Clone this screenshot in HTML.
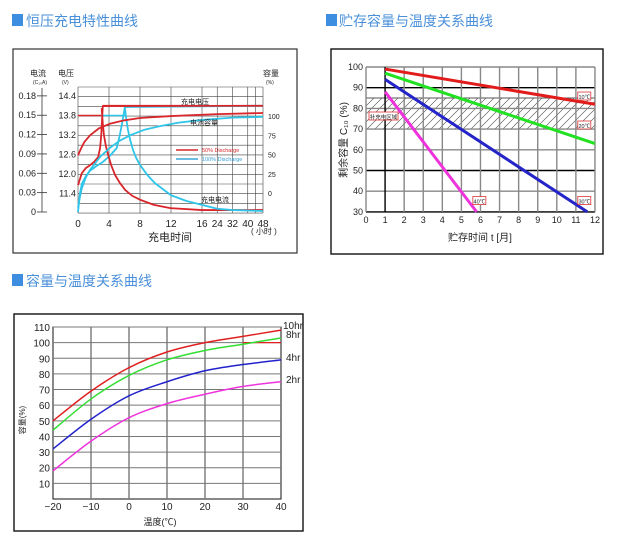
<!DOCTYPE html>
<html><head><meta charset="utf-8">
<style>
html,body{margin:0;padding:0;background:#fff;width:619px;height:546px;overflow:hidden}
svg{position:absolute;left:0;top:0}
text{font-family:"Liberation Sans","Noto Sans CJK SC",sans-serif}
.h{font-size:14px;fill:#4a90d9}
</style></head>
<body>
<svg id="s" width="619" height="546" viewBox="0 0 619 546" xmlns="http://www.w3.org/2000/svg">
<rect x="12" y="14" width="11" height="12" fill="#3d8ee0"/>
<text class="h" x="26" y="26">恒压充电特性曲线</text>
<rect x="326" y="14" width="11" height="12" fill="#3d8ee0"/>
<text class="h" x="339" y="26">贮存容量与温度关系曲线</text>
<rect x="12" y="274" width="11" height="12" fill="#3d8ee0"/>
<text class="h" x="26" y="286">容量与温度关系曲线</text>

<rect x="13" y="49" width="284" height="204" fill="#fff" stroke="#333" stroke-width="1.2"/>
<rect x="331" y="49" width="272" height="205" fill="#fff" stroke="#111" stroke-width="1.4"/>
<rect x="14" y="314" width="289" height="217" fill="#fff" stroke="#111" stroke-width="1.4"/>
<g id="c1"></g>
<g id="c2"></g>
<g id="c3"></g>
</svg>
<script>
// ---- Chart 1 data ----
const c1TimeTicks=[0,4,8,12,16,24,32,40,48];
const c1VoltTicks=[14.4,13.8,13.2,12.6,12.0,11.4];
const c1CurTicks=[0.18,0.15,0.12,0.09,0.06,0.03,0];
const c1CapTicks=[100,75,50,25,0];
const redVoltage=[[0,11.66],[0.5,12.03],[1.0,12.18],[1.55,12.27],[2.1,12.38],[2.6,12.52],[2.85,12.8],[3.0,13.2],[3.1,13.66],[3.2,14.09],[48,14.1]];
const redCurrent=[[3.05,0.161],[3.2,0.137],[3.35,0.119],[3.6,0.102],[3.9,0.088],[4.3,0.072],[4.8,0.057],[5.4,0.045],[6.1,0.034],[7,0.025],[8,0.019],[9.8,0.011],[11.9,0.006],[16,0.003],[48,0.003]];
const redCapacity=[[0,49],[0.4,58],[0.8,66],[1.55,75],[2.7,84],[4.1,90],[6,94.5],[8,97.5],[12,100],[24,102.5],[48,104]];
const cyanVoltage=[[0,10.83],[0.25,11.4],[0.5,11.7],[1.0,11.93],[1.55,12.1],[2.4,12.25],[3.2,12.37],[4.2,12.58],[5,12.8],[5.4,13.2],[5.75,13.65],[6.05,14.06],[48,14.1]];
const cyanCurrent=[[6.05,0.161],[6.25,0.142],[6.45,0.127],[6.75,0.111],[7.1,0.096],[7.5,0.084],[8,0.073],[8.9,0.058],[9.9,0.045],[12,0.026],[14,0.017],[16,0.011],[24,0.005],[32,0.003],[48,0.0015]];
const cyanCapacity=[[0,-19],[0.25,-5],[0.5,6.5],[1.0,20],[1.55,30],[2.85,47],[4.1,58.5],[5.3,67.5],[6.7,75],[8.5,82],[10.6,87],[13,91.5],[16,95],[32,98],[48,99]];
// ---- Chart 2 data ----
const c2Months=[0,1,2,3,4,5,6,7,8,9,10,11,12];
const c2PctTicks=[100,90,80,70,60,50,40,30];
const line10C=[[1,99],[12,82]];
const line20C=[[1,97],[12,63]];
const line30C=[[1,94],[11.6,30]];
const line40C=[[1,88],[5.8,30]];
// ---- Chart 3 data ----
const c3Temps=[-20,-10,0,10,20,30,40];
const c3PctTicks=[110,100,90,80,70,60,50,40,30,20,10];
const cap10hr=[50,69,84,94,100,104,108];
const cap8hr=[44,64,79,89,95,99,103];
const cap4hr=[32,51,66,75,82,86,89];
const cap2hr=[18,37,52,61,67,72,75];

const NS='http://www.w3.org/2000/svg';
function mk(p,tag,a,txt){const e=document.createElementNS(NS,tag);for(const k in a)e.setAttribute(k,a[k]);if(txt!=null)e.textContent=txt;p.appendChild(e);return e;}
function smooth(pts){let d='M'+pts[0][0]+','+pts[0][1];for(let i=1;i<pts.length;i++){const p0=pts[i-2]||pts[i-1],p1=pts[i-1],p2=pts[i],p3=pts[i+1]||p2;const c1x=p1[0]+(p2[0]-p0[0])/6,c1y=p1[1]+(p2[1]-p0[1])/6,c2x=p2[0]-(p3[0]-p1[0])/6,c2y=p2[1]-(p3[1]-p1[1])/6;d+=' C'+c1x+','+c1y+' '+c2x+','+c2y+' '+p2[0]+','+p2[1];}return d;}
function poly(pts){return 'M'+pts.map(p=>p[0].toFixed(2)+','+p[1].toFixed(2)).join(' L');}

// Chart 1
(function(){
const g=document.getElementById('c1');
const tx=t=>t<=16?78+t*7.75:202+(t-16)*15.25/8;
const vy=v=>96+(14.4-v)/0.6*19.5;
const iy=a=>212-a/0.00155;
const cy=c=>193-c/1.3;
for(let k=0;k<=13;k++){const y=87+k*9.7;const l=mk(g,'line',{x1:78,x2:263,y1:y,y2:y,stroke:'#444','stroke-width':0.6});

}
c1TimeTicks.concat([44]).forEach(t=>{const l=mk(g,'line',{x1:tx(t),x2:tx(t),y1:87,y2:213,stroke:'#444','stroke-width':0.6});

});
c1TimeTicks.forEach(t=>{const e=mk(g,'text',{x:tx(t),y:227,'font-size':10,'text-anchor':'middle',fill:'#222'},String(t));

});
c1VoltTicks.forEach(v=>{const e=mk(g,'text',{x:76,y:vy(v)+3,'font-size':9,'text-anchor':'end',fill:'#222'},v.toFixed(1));

});
mk(g,'line',{x1:42,x2:42,y1:88,y2:212,stroke:'#333','stroke-width':0.8});
c1CurTicks.forEach(a=>{mk(g,'line',{x1:37,x2:47,y1:iy(a),y2:iy(a),stroke:'#333','stroke-width':0.8});
const e=mk(g,'text',{x:36,y:iy(a)+3,'font-size':9,'text-anchor':'end',fill:'#222'},a===0?'0':a.toFixed(2));

});
c1CapTicks.forEach(c=>{const e=mk(g,'text',{x:268,y:cy(c)+3,'font-size':7,fill:'#222'},String(c));

});
mk(g,'line',{x1:78,x2:101,y1:vy(13.8),y2:vy(13.8),stroke:'#d8262a','stroke-width':1.5});
mk(g,'line',{x1:101,x2:125,y1:vy(13.8),y2:vy(13.8),stroke:'#2ec5e8','stroke-width':1.5});
function series(pts,f,col,name){const p=pts.map(d=>[tx(d[0]),f(d[1])]);
const e=mk(g,'path',{d:poly(p),fill:'none',stroke:col,'stroke-width':1.8,'stroke-linejoin':'round'});

}
series(cyanVoltage,vy,'#2ec5e8','cyan-voltage-line');
series(redVoltage,vy,'#d8262a','red-voltage-line');
mk(g,'line',{x1:tx(3.2),x2:tx(16),y1:vy(14.1),y2:vy(14.1),stroke:'#d8262a','stroke-width':1.8});
series(redCurrent,iy,'#d8262a','red-current-line');
series(cyanCurrent,iy,'#2ec5e8','cyan-current-line');
series(redCapacity,cy,'#d8262a','red-capacity-line');
series(cyanCapacity,cy,'#2ec5e8','cyan-capacity-line');
const T=(x,y,s,t,n,a)=>{const e=mk(g,'text',{x:x,y:y,'font-size':s,fill:'#222','text-anchor':a||'start'},t);

return e;};
T(181,104,7,'充电电压','label-charge-voltage');
T(190,125,7,'电池容量','label-battery-capacity');
T(201,202,7,'充电电流','label-charge-current');
T(30,76,8,'电流','c1-current-title');T(33,84,5,'(C₁₀A)','c1-current-unit');
T(58,76,8,'电压','c1-voltage-title');T(62,84,5,'(V)','c1-voltage-unit');
T(263,76,8,'容量','c1-capacity-title');T(266,84,5,'(%)','c1-capacity-unit');
T(170,241,11,'充电时间','c1-x-title','middle');
T(251,234,8,'( 小时 )','c1-x-unit');
mk(g,'line',{x1:176,x2:198,y1:150,y2:150,stroke:'#d8262a','stroke-width':1.5});
mk(g,'line',{x1:176,x2:198,y1:159,y2:159,stroke:'#3aa6d8','stroke-width':1.5});
const a=T(202,152,5.5,'50% Discharge','legend-50-discharge');a.setAttribute('fill','#d8262a');
const b=T(202,161,5.5,'100% Discharge','legend-100-discharge');b.setAttribute('fill','#2ea0d8');
})();

// Chart 2
(function(){
const g=document.getElementById('c2');
const mx=m=>366+m*19.08, py=v=>67+(100-v)*2.07;
const defs=mk(g,'defs',{});const pat=mk(defs,'pattern',{id:'hatch',width:8,height:8,patternUnits:'userSpaceOnUse'});
mk(pat,'path',{d:'M0,8 L8,0 M-2,2 L2,-2 M6,10 L10,6',stroke:'#444','stroke-width':0.6});
const hb=mk(g,'rect',{x:mx(0),y:py(85),width:mx(12)-mx(0),height:py(70)-py(85),fill:'url(#hatch)'});


mk(g,'line',{x1:mx(0),x2:mx(12),y1:py(85),y2:py(85),stroke:'#555','stroke-width':1});
c2PctTicks.forEach(v=>{const dark=(v===90||v===50||v===30);const l=mk(g,'line',{x1:mx(0),x2:mx(12),y1:py(v),y2:py(v),stroke:dark?'#000':'#888','stroke-width':1.4});


const e=mk(g,'text',{x:mx(0)-3,y:py(v)+3,'font-size':9,'text-anchor':'end',fill:'#222'},String(v));

});
c2Months.forEach(m=>{const dark=m===1;const l=mk(g,'line',{x1:mx(m),x2:mx(m),y1:py(100),y2:py(30),stroke:dark?'#000':'#888','stroke-width':1.4});


const e=mk(g,'text',{x:mx(m),y:py(30)+11,'font-size':9,'text-anchor':'middle',fill:'#222'},String(m));

});
[[line10C,'#e21b1b','line-10c'],[line20C,'#22e022','line-20c'],[line30C,'#2424c8','line-30c'],[line40C,'#ee33dd','line-40c']].forEach(s=>{
const l=mk(g,'line',{x1:mx(s[0][0][0]),y1:py(s[0][0][1]),x2:mx(s[0][1][0]),y2:py(s[0][1][1]),stroke:s[1],'stroke-width':3});

});
function box(x,y,w,t,n){mk(g,'rect',{x:x,y:y-5,width:w,height:8,fill:'#fff',stroke:'#d33','stroke-width':0.8});
const e=mk(g,'text',{x:x+w/2,y:y+2,'font-size':5.5,'text-anchor':'middle',fill:'#222'},t);

}
box(mx(11.1),py(85.5),13,'10℃','label-10c');box(mx(11.1),py(71.5),13,'20℃','label-20c');
box(mx(11.1),py(35),13,'30℃','label-30c');box(mx(5.6),py(35),13,'40℃','label-40c');
box(369,117,29,'补充电区域','label-recharge-zone');
const yt=mk(g,'text',{x:0,y:0,'font-size':10,'text-anchor':'middle',fill:'#222',transform:'translate(347,140) rotate(-90)'},'剩余容量 C₁₀ (%)');


const xt=mk(g,'text',{x:480,y:241,'font-size':10,'text-anchor':'middle',fill:'#222'},'贮存时间 t [月]');


})();

// Chart 3
(function(){
const g=document.getElementById('c3');
const tx=t=>53+(t+20)*3.8, py=v=>499-v*1.5636;
mk(g,'rect',{x:tx(-20),y:py(110),width:tx(40)-tx(-20),height:py(0)-py(110),fill:'none',stroke:'#111','stroke-width':1});
c3PctTicks.forEach(v=>{const l=mk(g,'line',{x1:tx(-20),x2:tx(40),y1:py(v),y2:py(v),stroke:'#777','stroke-width':1});


const e=mk(g,'text',{x:tx(-20)-3,y:py(v)+4,'font-size':10,'text-anchor':'end',fill:'#222'},String(v));

});
c3Temps.forEach(t=>{if(t>-20&&t<40){const l=mk(g,'line',{x1:tx(t),x2:tx(t),y1:py(110),y2:py(0),stroke:'#777','stroke-width':1.4});

}
const e=mk(g,'text',{x:tx(t),y:510,'font-size':10,'text-anchor':'middle',fill:'#222'},(t<0?'−':'')+Math.abs(t));

});
mk(g,'line',{x1:tx(30),x2:tx(40),y1:py(100),y2:py(100),stroke:'#e02020','stroke-width':1.2});
[[cap10hr,'#e02020','curve-10hr'],[cap8hr,'#33dd33','curve-8hr'],[cap4hr,'#2222cc','curve-4hr'],[cap2hr,'#ee33dd','curve-2hr']].forEach(s=>{
const p=c3Temps.map((t,i)=>[tx(t),py(s[0][i])]);
const e=mk(g,'path',{d:smooth(p),fill:'none',stroke:s[1],'stroke-width':1.5});

});
[['10hr',329],['8hr',338],['4hr',361],['2hr',383]].forEach((l,i)=>{const e=mk(g,'text',{x:i===0?283:286,y:l[1],'font-size':10,fill:'#222'},l[0]);

});
const yt=mk(g,'text',{x:0,y:0,'font-size':8,'text-anchor':'middle',fill:'#222',transform:'translate(25,420) rotate(-90)'},'容量(%)');


const xt=mk(g,'text',{x:160,y:525,'font-size':9,'text-anchor':'middle',fill:'#222'},'温度(℃)');


})();
</script>
</body></html>
